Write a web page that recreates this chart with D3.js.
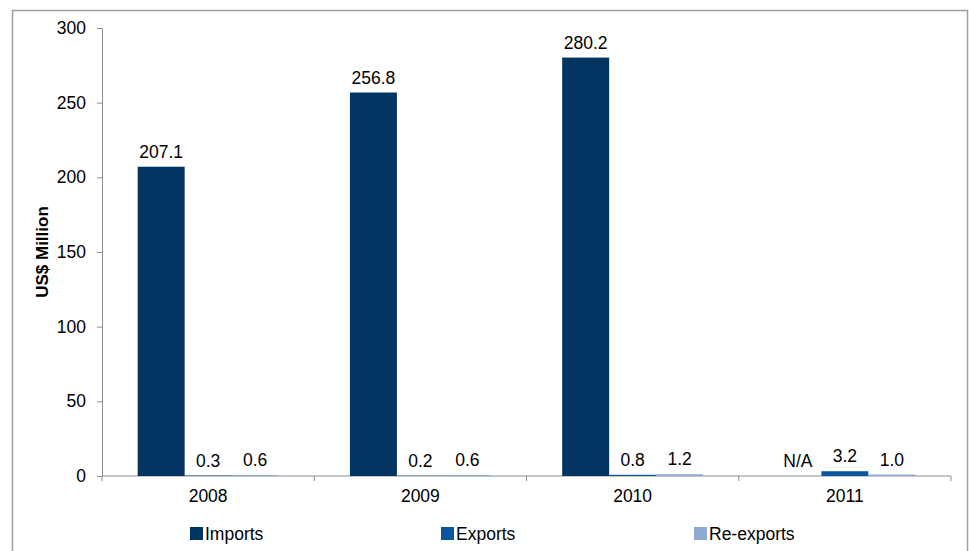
<!DOCTYPE html>
<html>
<head>
<meta charset="utf-8">
<script src="https://cdn.jsdelivr.net/npm/d3@7"></script>
<style>
  html, body { margin: 0; padding: 0; background: #fff; }
  svg { display: block; font-family: "Liberation Sans", Arial, sans-serif; }
</style>
</head>
<body>
<svg id="chart" width="969" height="551"></svg>
<script>
const years = ["2008", "2009", "2010", "2011"];
const seriesNames = ["Imports", "Exports", "Re-exports"];
const imports = [207.1, 256.8, 280.2, null];
const exportsVals = [0.3, 0.2, 0.8, 3.2];
const reexports = [0.6, 0.6, 1.2, 1.0];
const yTicks = [0, 50, 100, 150, 200, 250, 300];
const colors = ["#023461", "#0b56a0", "#8faad0"];

const seriesData = [imports, exportsVals, reexports];
const FS = 17.5;

const svg = d3.select("#chart");

// outer frame
svg.append("rect")
  .attr("x", 12.5).attr("y", 10.5)
  .attr("width", 955).attr("height", 600)
  .attr("fill", "none").attr("stroke", "#a0a0a0").attr("stroke-width", 1.5);

const x0 = d3.scaleBand().domain(years).range([102, 951]).padding(0);
const x1 = d3.scaleBand().domain(seriesNames).range([0, x0.bandwidth()])
  .paddingInner(0).paddingOuter(0.76);
const y = d3.scaleLinear().domain([0, 300]).range([476, 28]);

// y axis
const yAxis = d3.axisLeft(y).tickValues(yTicks).tickSize(5).tickPadding(11);
const gy = svg.append("g").attr("transform", "translate(102,0)").call(yAxis);
gy.select(".domain").attr("stroke", "#8c8c8c");
gy.selectAll(".tick line").attr("stroke", "#8c8c8c");
gy.selectAll(".tick text").attr("font-size", FS).attr("fill", "#000")
  .attr("font-family", "Liberation Sans, Arial, sans-serif");

// x axis
const xAxisScale = d3.scaleLinear().domain([0, years.length]).range([102, 951]);
const gx = svg.append("g").attr("transform", "translate(0,476)");
gx.append("line").attr("x1", 102).attr("x2", 951).attr("y1", 0).attr("y2", 0)
  .attr("stroke", "#8c8c8c");
gx.selectAll(".xt").data(d3.range(years.length + 1)).enter().append("line")
  .attr("x1", d => xAxisScale(d)).attr("x2", d => xAxisScale(d))
  .attr("y1", 0).attr("y2", 5).attr("stroke", "#8c8c8c");
gx.selectAll(".xl").data(years).enter().append("text")
  .attr("x", d => x0(d) + x0.bandwidth() / 2)
  .attr("y", 26)
  .attr("text-anchor", "middle")
  .attr("font-size", FS)
  .text(d => d);

// bars
const groups = svg.append("g").selectAll("g").data(years).enter().append("g")
  .attr("transform", d => `translate(${x0(d)},0)`);

groups.selectAll("rect")
  .data((d, i) => seriesNames.map((s, j) => ({ s, j, v: seriesData[j][i] })))
  .enter().append("rect")
  .attr("x", d => x1(d.s))
  .attr("width", x1.bandwidth())
  .attr("y", d => d.v == null ? y(0) : y(d.v))
  .attr("height", d => d.v == null ? 0 : y(0) - y(d.v))
  .attr("fill", d => colors[d.j]);

groups.selectAll("text")
  .data((d, i) => seriesNames.map((s, j) => ({ s, j, v: seriesData[j][i] })))
  .enter().append("text")
  .attr("x", d => x1(d.s) + x1.bandwidth() / 2)
  .attr("y", d => (d.v == null ? y(0) : y(d.v)) - 9)
  .attr("text-anchor", "middle")
  .attr("font-size", FS)
  .text(d => d.v == null ? "N/A" : d3.format(".1f")(d.v));

// y title
svg.append("text")
  .attr("transform", "translate(48,252) rotate(-90)")
  .attr("text-anchor", "middle")
  .attr("font-size", 17)
  .attr("font-weight", "bold")
  .text("US$ Million");

// legend
const legendX = [190, 441, 694];
const lg = svg.append("g").selectAll("g").data(seriesNames).enter().append("g")
  .attr("transform", (d, i) => `translate(${legendX[i]},527)`);
lg.append("rect").attr("width", 13).attr("height", 13).attr("fill", (d, i) => colors[i]);
lg.append("text").attr("x", 15).attr("y", 13).attr("font-size", FS).text(d => d);
</script>
</body>
</html>
